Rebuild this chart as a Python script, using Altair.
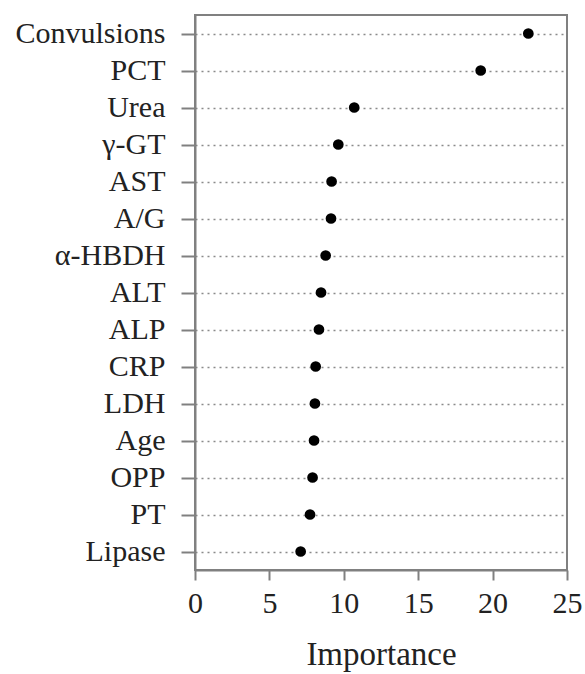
import altair as alt
import pandas as pd

features = ["Convulsions", "PCT", "Urea", "γ-GT", "AST", "A/G", "α-HBDH", "ALT",
            "ALP", "CRP", "LDH", "Age", "OPP", "PT", "Lipase"]
importance = [22.4, 19.2, 10.7, 9.63, 9.18, 9.14, 8.78, 8.47,
              8.33, 8.11, 8.06, 8.0, 7.9, 7.73, 7.1]
x_ticks = [0, 5, 10, 15, 20, 25]

df = pd.DataFrame({"Feature": features, "Importance": importance})

FONT = "Liberation Serif"
GRAY = "#808080"

chart = alt.Chart(df).mark_circle(size=115, color="black", opacity=1).encode(
    x=alt.X("Importance:Q",
            scale=alt.Scale(domain=[0, 25], nice=False, zero=True),
            axis=alt.Axis(values=x_ticks, title="Importance", grid=False,
                          tickSize=10, tickWidth=2, tickColor=GRAY,
                          domainColor=GRAY, domainWidth=2,
                          labelFont=FONT, labelFontSize=30, labelColor="#222",
                          labelPadding=8, labelFlush=False,
                          titleFont=FONT, titleFontSize=33, titleFontWeight="normal",
                          titleColor="#222", titlePadding=20)),
    y=alt.Y("Feature:N", sort=features,
            scale=alt.Scale(paddingInner=0, paddingOuter=0),
            axis=alt.Axis(title=None, grid=True, gridDash=[2, 4], gridColor="#8a8a8a",
                          gridWidth=1.5,
                          tickSize=14, tickWidth=2, tickColor=GRAY,
                          domainColor=GRAY, domainWidth=2,
                          labelFont=FONT, labelFontSize=30, labelColor="#222",
                          labelPadding=16)),
).properties(
    width=372, height=555,
    background="white",
    autosize=alt.AutoSizeParams(type="none"),
    padding={"left": 195, "top": 15, "right": 18, "bottom": 104},
).configure_view(
    stroke=GRAY, strokeWidth=2
)

chart.save("out.html", embed_options={"renderer": "svg", "actions": False})
